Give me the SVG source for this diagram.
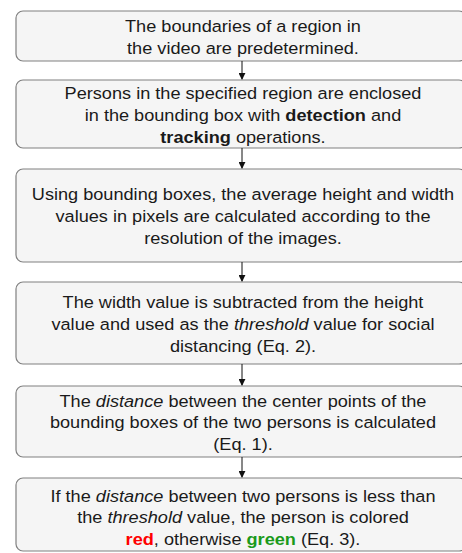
<svg xmlns="http://www.w3.org/2000/svg" width="462" height="553" viewBox="0 0 462 553">
<defs>
<style>
.box{fill:#f5f5f5;stroke:#808080;stroke-width:1.2}
.t{font-family:"Liberation Sans",Arial,sans-serif;font-size:16.5px;fill:#1a1a1a;text-anchor:middle}
.b{font-weight:bold}
.i{font-style:italic}
.edge{stroke:#111;stroke-width:1;fill:none;marker-end:url(#ah)}
</style>
<marker id="ah" viewBox="0 0 8 8" refX="7" refY="4" markerWidth="7" markerHeight="7" markerUnits="userSpaceOnUse" orient="auto">
<path d="M0,0 L8,4 L0,8 Z" fill="#111"/>
</marker>
</defs>
<g id="n1">
<rect class="box" x="16" y="11" width="450" height="50" rx="7"/>
<g transform="matrix(1.1,0,0,1,-24.3,0)">
<text class="t" x="243" y="32">The boundaries of a region in</text>
<text class="t" x="243" y="54">the video are predetermined.</text>
</g>
</g>
<g id="n2">
<rect class="box" x="16" y="80" width="450" height="68" rx="7"/>
<g transform="matrix(1.1,0,0,1,-24.3,0)">
<text class="t" x="243" y="99">Persons in the specified region are enclosed</text>
<text class="t" x="243" y="121">in the bounding box with <tspan class="b">detection</tspan> and</text>
<text class="t" x="243" y="143"><tspan class="b">tracking</tspan> operations.</text>
</g>
</g>
<g id="n3">
<rect class="box" x="16" y="169" width="450" height="93" rx="7"/>
<g transform="matrix(1.1,0,0,1,-24.3,0)">
<text class="t" x="243" y="200">Using bounding boxes, the average height and width</text>
<text class="t" x="243" y="222">values in pixels are calculated according to the</text>
<text class="t" x="243" y="244">resolution of the images.</text>
</g>
</g>
<g id="n4">
<rect class="box" x="16" y="282" width="450" height="82" rx="7"/>
<g transform="matrix(1.1,0,0,1,-24.3,0)">
<text class="t" x="243" y="308">The width value is subtracted from the height</text>
<text class="t" x="243" y="330">value and used as the <tspan class="i">threshold</tspan> value for social</text>
<text class="t" x="243" y="352">distancing (Eq. 2).</text>
</g>
</g>
<g id="n5">
<rect class="box" x="16" y="386" width="450" height="71" rx="7"/>
<g transform="matrix(1.1,0,0,1,-24.3,0)">
<text class="t" x="243" y="407">The <tspan class="i">distance</tspan> between the center points of the</text>
<text class="t" x="243" y="428">bounding boxes of the two persons is calculated</text>
<text class="t" x="243" y="450">(Eq. 1).</text>
</g>
</g>
<g id="n6">
<rect class="box" x="16" y="478" width="450" height="73" rx="7"/>
<g transform="matrix(1.1,0,0,1,-24.3,0)">
<text class="t" x="243" y="502">If the <tspan class="i">distance</tspan> between two persons is less than</text>
<text class="t" x="243" y="523">the <tspan class="i">threshold</tspan> value, the person is colored</text>
<text class="t" x="243" y="545"><tspan class="b" fill="#ff0000">red</tspan>, otherwise <tspan class="b" fill="#1a9a1a">green</tspan> (Eq. 3).</text>
</g>
</g>
<g id="connectors">
<line class="edge" x1="242" y1="61" x2="242" y2="79"/>
<line class="edge" x1="242" y1="148" x2="242" y2="168"/>
<line class="edge" x1="242" y1="262" x2="242" y2="281"/>
<line class="edge" x1="242" y1="364" x2="242" y2="385"/>
<line class="edge" x1="242" y1="457" x2="242" y2="477"/>
</g>
</svg>
